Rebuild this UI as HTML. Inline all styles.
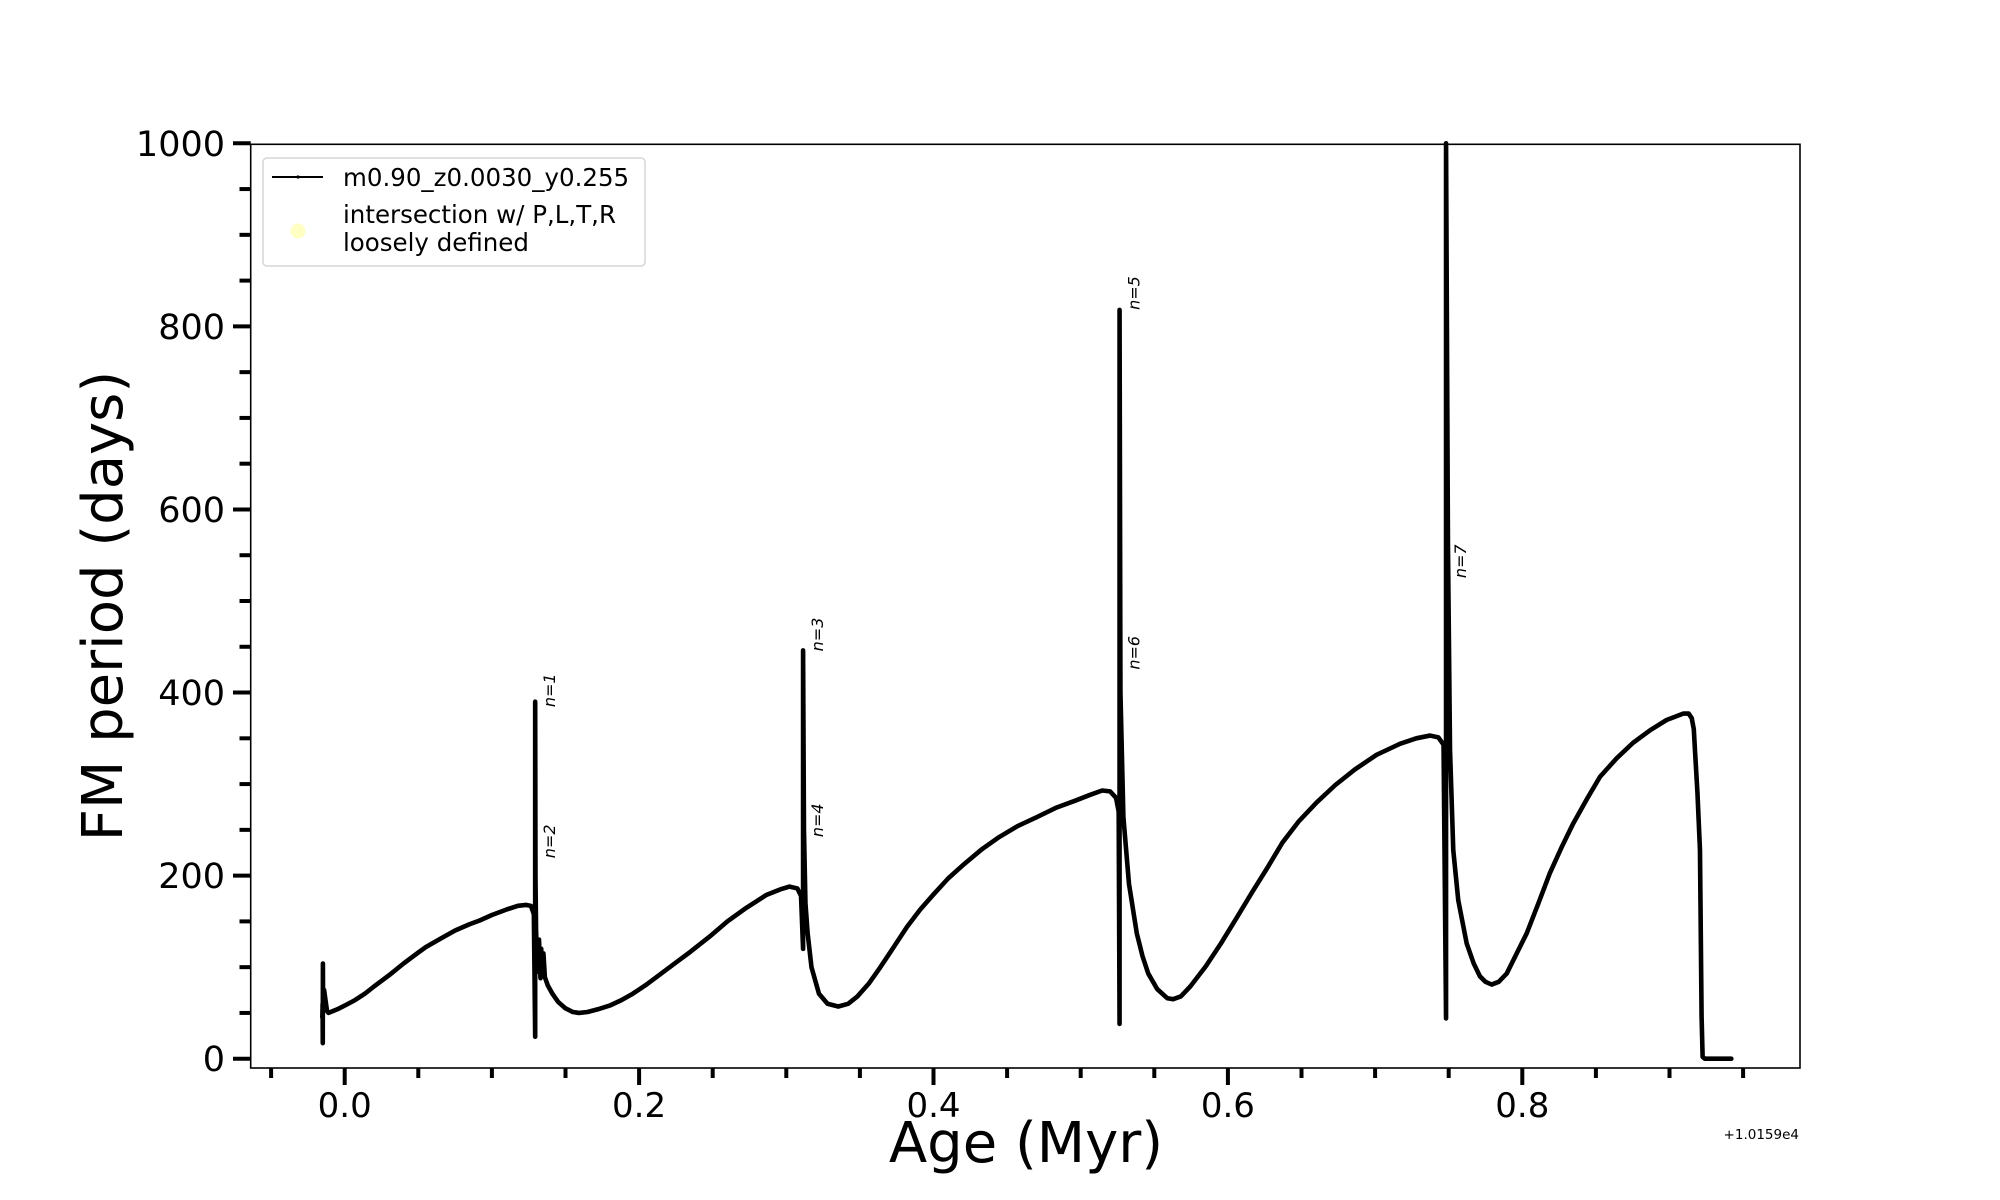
<!DOCTYPE html>
<html><head><meta charset="utf-8"><style>
html,body{margin:0;padding:0;background:#fff;}
svg{display:block;font-family:"DejaVu Sans","Liberation Sans",sans-serif;}
</style></head><body>
<svg id="chart" width="2000" height="1200" viewBox="0 0 2000 1200" xmlns="http://www.w3.org/2000/svg">
<rect x="0" y="0" width="2000" height="1200" fill="#fff"/>
<g id="series"></g>
<g id="annots"></g>
<rect x="250.7" y="144.3" width="1549.3" height="923.7" fill="none" stroke="#000" stroke-width="1.6"/>
<g id="xaxis"></g>
<g id="yaxis"></g>
<text x="1026" y="1162" font-size="56" text-anchor="middle">Age (Myr)</text>
<text transform="translate(122,606) rotate(-90)" font-size="56" text-anchor="middle">FM period (days)</text>
<text x="1799" y="1139" font-size="13.5" text-anchor="end">+1.0159e4</text>
<g>
<rect x="263" y="158" width="382" height="108" rx="4" fill="#fff" fill-opacity="0.8" stroke="#d6d6d6" stroke-width="1.5"/>
<line x1="272" y1="177" x2="323" y2="177" stroke="#000" stroke-width="2"/>
<circle cx="298" cy="177" r="1.6" fill="#000"/>
<text x="343" y="186" font-size="24.5">m0.90_z0.0030_y0.255</text>
<circle cx="298" cy="231" r="7.5" fill="#ffffaa" fill-opacity="0.7"/>
<text x="343" y="223" font-size="24.5">intersection w/ P,L,T,R</text>
<text x="343" y="251" font-size="24.5">loosely defined</text>
</g>
</svg>
<script>
const ages = [-0.0152,-0.0150,-0.0149,-0.0148,-0.0147,-0.0140,-0.0120,-0.0110,-0.0050,0.0000,0.0070,0.0137,0.0200,0.0300,0.0400,0.0500,0.0552,0.0650,0.0750,0.0850,0.0917,0.1000,0.1100,0.1177,0.1230,0.1265,0.1285,0.1294,0.1294,0.1296,0.1300,0.1310,0.1320,0.1330,0.1335,0.1345,0.1350,0.1360,0.1380,0.1411,0.1450,0.1500,0.1550,0.1592,0.1650,0.1720,0.1800,0.1880,0.1957,0.2050,0.2150,0.2250,0.2350,0.2476,0.2600,0.2730,0.2866,0.2960,0.3022,0.3075,0.3100,0.3114,0.3114,0.3120,0.3130,0.3145,0.3171,0.3222,0.3280,0.3353,0.3420,0.3483,0.3560,0.3639,0.3730,0.3820,0.3910,0.4003,0.4100,0.4211,0.4330,0.4445,0.4570,0.4703,0.4830,0.4965,0.5060,0.5146,0.5200,0.5240,0.5258,0.5264,0.5264,0.5270,0.5290,0.5328,0.5381,0.5420,0.5459,0.5520,0.5589,0.5628,0.5680,0.5745,0.5850,0.5953,0.6060,0.6161,0.6270,0.6370,0.6480,0.6603,0.6730,0.6863,0.7010,0.7169,0.7280,0.7373,0.7430,0.7465,0.7482,0.7482,0.7495,0.7509,0.7531,0.7565,0.7622,0.7670,0.7712,0.7750,0.7792,0.7840,0.7894,0.8030,0.8110,0.8188,0.8270,0.8346,0.8440,0.8528,0.8640,0.8752,0.8870,0.8980,0.9093,0.9130,0.9151,0.9165,0.9173,0.9190,0.9207,0.9218,0.9225,0.9240,0.9300,0.9420];
const periods = [45,60,17,104,60,75,52,50,54,58,64,71,79,91,104,116,122,131,140,147,151,157,163,167,168,167,158,24,390,200,140,95,130,88,120,92,115,89,80,71,62,55,51,50,51,54,58,64,71,81,93,105,117,133,150,165,179,185,188,186,178,120,446,250,170,137,100,71,60,57,60,68,82,100,122,144,163,180,197,213,229,242,254,264,274,282,288,293,292,285,270,38,818,400,264,191,137,112,93,76,66,65,68,79,101,126,154,181,209,236,259,280,299,316,332,344,350,353,351,343,44,1000,560,337,228,173,126,104,90,84,81,84,93,137,170,203,232,257,284,308,328,345,359,370,377,377,372,360,337,290,228,46,2,0,0,0];
const tickVals = [0.0,0.2,0.4,0.6,0.8];
const tickLabels = ["0.0","0.2","0.4","0.6","0.8"];
const minorXVals = [-0.05,0.05,0.1,0.15,0.25,0.3,0.35,0.45,0.5,0.55,0.65,0.7,0.75,0.85,0.9,0.95];
const yTickVals = [0,200,400,600,800,1000];
const yTickLabels = ["0","200","400","600","800","1000"];
const annotAges = [0.1294,0.1294,0.3114,0.3114,0.5264,0.5264,0.7482];
const annotVals = [384,219,445,242,818,425,525];
const annotLabels = ["n=1","n=2","n=3","n=4","n=5","n=6","n=7"];

const NS = "http://www.w3.org/2000/svg";
function xs(a){ return 344.7 + a*1472; }
function ys(p){ return 1058.7 - p*0.9154; }
function mk(tag, attrs, parent){ const e=document.createElementNS(NS,tag); for(const k in attrs) e.setAttribute(k,attrs[k]); parent.appendChild(e); return e; }

const sg = document.getElementById('series');
let d = '';
const n = Math.min(ages.length, periods.length);
for(let i=0;i<n;i++){ d += (i?'L':'M') + xs(ages[i]).toFixed(2) + ',' + ys(periods[i]).toFixed(2); }
const line = mk('path',{d:d,fill:'none',stroke:'#000','stroke-width':4.6,'stroke-linejoin':'round','stroke-linecap':'round'},sg);



const ag = document.getElementById('annots');
for(let i=0;i<annotLabels.length;i++){
  const x = xs(annotAges[i]) + 20, y = ys(annotVals[i]);
  const t = mk('text',{transform:`translate(${x},${y}) rotate(-90)`,'font-size':16,'font-style':'italic'},ag);
  t.textContent = annotLabels[i];
  
  
}

const xg = document.getElementById('xaxis');
for(let i=0;i<tickVals.length;i++){
  const x = xs(tickVals[i]);
  const tk = mk('line',{x1:x,y1:1068,x2:x,y2:1085,stroke:'#000','stroke-width':4},xg);
  
  
  const tl = mk('text',{x:x,y:1117,'font-size':34,'text-anchor':'middle'},xg);
  tl.textContent = tickLabels[i];
  
  
}
for(let i=0;i<minorXVals.length;i++){
  const x = xs(minorXVals[i]);
  const tk = mk('line',{x1:x,y1:1068,x2:x,y2:1078,stroke:'#000','stroke-width':4},xg);
  
  
}
const yg = document.getElementById('yaxis');
for(let v=0; v<=1000; v+=50){
  const y = ys(v);
  const major = (v % 200 === 0);
  const tk = mk('line',{x1:major?233:239.5,y1:y,x2:250.7,y2:y,stroke:'#000','stroke-width':4},yg);
  
  
}
for(let i=0;i<yTickVals.length;i++){
  const tl = mk('text',{x:225,y:ys(yTickVals[i])+12.5,'font-size':35,'text-anchor':'end'},yg);
  tl.textContent = yTickLabels[i];
  
  
}
</script>
</body></html>
